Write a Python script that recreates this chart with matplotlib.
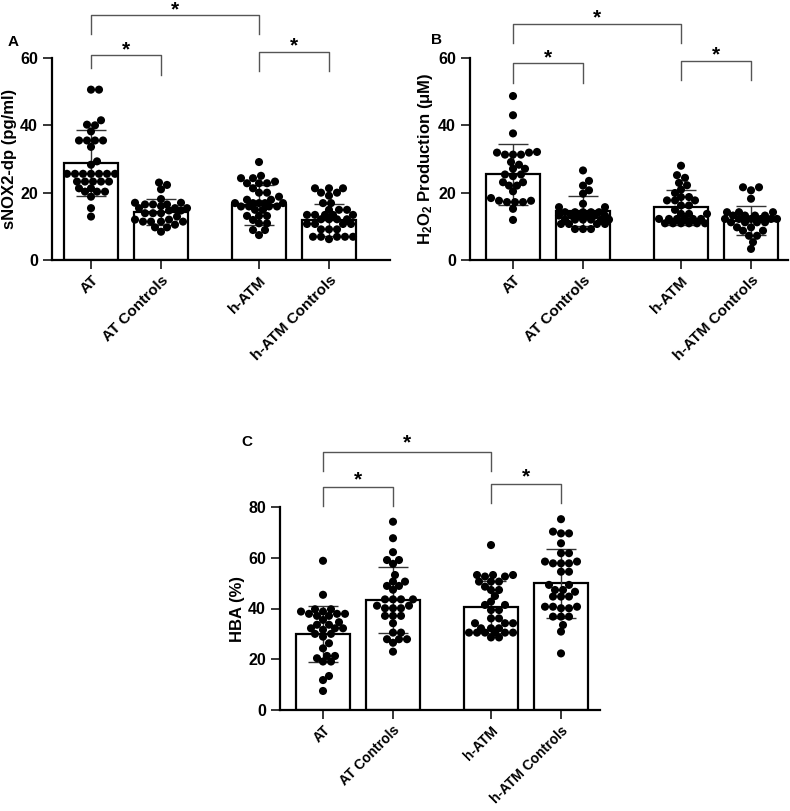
import numpy as np
import matplotlib
matplotlib.use('Agg')
import matplotlib.pyplot as plt

plt.rcParams['font.family'] = ['Liberation Sans', 'DejaVu Sans']
plt.rcParams['font.weight'] = 'bold'
plt.rcParams['mathtext.default'] = 'regular'

groups = ['AT', 'AT Controls', 'h-ATM', 'h-ATM Controls']
pos = [0, 1, 2.4, 3.4]

# panel A - sNOX2-dp (pg/ml)
a_at = [50.6, 50.6, 41.5, 40.2, 40.0, 38.2, 35.5, 35.5, 35.5, 35.5, 33.6, 29.3, 28.3,
        25.6, 25.6, 25.6, 25.6, 25.6, 25.6, 25.6, 23.3, 23.3, 23.3, 23.3, 23.3,
        21.3, 21.3, 20.3, 20.3, 20.3, 18.8, 15.4, 12.9]
a_atc = [23.0, 22.3, 21.0, 18.1, 17.0, 17.0, 16.5, 16.5, 16.5, 16.0, 15.4, 15.4, 15.4,
         14.7, 14.7, 13.9, 13.9, 13.9, 12.9, 12.0, 12.0, 11.4, 11.4, 11.4, 11.4,
         10.5, 9.7, 9.7, 8.4]
a_hatm = [29.1, 25.0, 24.3, 24.3, 23.3, 22.8, 22.8, 22.8, 21.3, 20.0, 20.0, 18.8, 17.9,
          17.9, 16.9, 16.9, 16.9, 16.9, 16.9, 15.9, 15.9, 15.9, 15.9, 14.9, 14.9,
          13.1, 13.1, 13.1, 11.9, 10.9, 10.9, 8.9, 8.9, 7.4]
a_hatmc = [21.3, 21.3, 21.3, 20.0, 20.0, 19.1, 16.9, 16.9, 14.9, 14.9, 14.9, 13.4, 13.4,
           13.4, 13.4, 13.4, 12.1, 12.1, 12.1, 12.1, 10.7, 10.7, 10.7, 10.7, 9.1, 9.1,
           9.1, 6.9, 6.9, 6.9, 6.9, 6.9, 6.2]
a_mean = [28.8, 14.3, 16.4, 11.9]
a_sd = [9.9, 3.8, 6.0, 4.8]

# panel B - H2O2 production (uM)
b_at = [48.7, 43.0, 37.6, 32.1, 31.9, 31.9, 31.3, 31.3, 31.3, 29.1, 28.3, 27.1, 27.1,
        25.4, 25.4, 24.9, 23.1, 23.1, 22.1, 22.1, 20.4, 18.4, 17.6, 17.6, 17.2, 17.2,
        17.2, 15.2, 11.9]
b_atc = [26.6, 23.5, 22.1, 20.7, 19.7, 16.7, 15.7, 15.7, 14.2, 14.2, 14.2, 14.2, 14.2,
         13.2, 13.2, 13.2, 13.2, 13.2, 13.2, 12.0, 12.0, 12.0, 12.0, 12.0, 12.0,
         10.7, 10.7, 10.7, 10.7, 9.2, 9.2, 9.2]
b_hatm = [28.0, 25.2, 24.4, 22.9, 22.2, 20.9, 19.9, 18.7, 18.7, 17.7, 17.7, 17.7, 16.2,
          16.2, 14.9, 13.7, 13.7, 13.7, 12.2, 12.2, 12.2, 12.2, 12.2, 12.2, 10.9, 10.9,
          10.9, 10.9, 10.9, 10.9]
b_hatmc = [21.6, 21.6, 20.7, 18.2, 14.2, 14.2, 14.2, 13.2, 13.2, 13.2, 13.2, 12.2, 12.2,
           12.2, 12.2, 12.2, 12.2, 11.2, 11.2, 11.2, 11.2, 9.7, 9.7, 8.7, 8.7, 7.2, 7.2,
           5.3, 3.3]
b_mean = [25.4, 14.5, 15.7, 11.7]
b_sd = [9.0, 4.5, 5.2, 4.4]

# panel C - HBA (%)
c_at = [58.8, 45.4, 39.7, 39.7, 38.8, 38.8, 37.9, 37.9, 37.9, 37.1, 37.1, 35.5, 34.6,
        33.6, 33.6, 32.2, 32.2, 32.2, 31.6, 30.0, 30.0, 28.9, 26.3, 24.3, 21.3, 21.3,
        20.4, 19.1, 19.1, 13.4, 11.8, 7.5]
c_atc = [74.2, 67.7, 62.2, 59.1, 59.1, 57.6, 53.2, 50.6, 50.6, 48.9, 48.9, 47.4, 43.6,
         43.6, 43.6, 43.6, 41.1, 41.1, 40.1, 40.1, 40.1, 37.1, 37.1, 37.1, 34.2, 30.5,
         30.5, 27.9, 27.9, 27.9, 26.5, 23.0]
c_hatm = [65.0, 53.2, 53.2, 53.2, 52.6, 52.6, 50.6, 50.6, 50.6, 48.6, 47.3, 47.3, 44.9,
          42.7, 41.4, 41.4, 39.4, 39.4, 36.1, 36.1, 34.2, 34.2, 34.2, 32.2, 32.2, 32.2,
          30.5, 30.5, 30.5, 30.5, 30.5, 30.5, 28.6, 28.6]
c_hatmc = [75.2, 70.3, 69.6, 69.6, 65.7, 61.8, 61.8, 58.5, 58.5, 57.8, 57.8, 57.8, 54.5,
           54.5, 49.3, 49.3, 47.3, 47.3, 46.6, 44.7, 44.7, 44.7, 40.7, 40.7, 40.7, 40.1,
           40.1, 36.8, 36.8, 36.8, 33.5, 30.9, 22.3]
c_mean = [29.9, 43.4, 40.7, 49.9]
c_sd = [11.0, 13.0, 10.2, 13.5]

# brackets: (i, j, y_line, y_left_leg, y_right_leg)
a_br = [(0, 2, 72.8, 67.1, 67.1), (0, 1, 60.9, 57.0, 54.9), (2, 3, 61.9, 56.1, 56.1)]
b_br = [(0, 2, 70.2, 64.5, 64.5), (0, 1, 58.5, 52.7, 52.5), (2, 3, 59.2, 53.5, 53.5)]
c_br = [(0, 2, 101.7, 94.1, 94.1), (0, 1, 87.9, 80.3, 80.3), (2, 3, 89.1, 81.6, 81.6)]

W, H = 790, 811
fig = plt.figure(figsize=(W / 100, H / 100), dpi=100)


def swarm(vals, xs, ys, d=8.0, maxw=27.0):
    # simple beeswarm in pixel space
    vals = np.asarray(vals)
    order = np.argsort(vals)
    placed = []
    offs = np.zeros(len(vals))
    cands = [0.0]
    k = 1
    while k * 2.0 <= maxw:
        cands += [k * 2.0, -k * 2.0]
        k += 1
    for i in order:
        y = vals[i] * ys
        best = None
        worst = None
        for c in cands:
            dmin = min([np.hypot(c - px, y - py) for px, py in placed] + [99])
            if dmin >= 0.85 * d:
                best = c
                break
            if worst is None or dmin > worst[1]:
                worst = (c, dmin)
        if best is None:
            best = worst[0]
        placed.append((best, y))
        offs[i] = best / xs
    return offs


def draw(ax, xlim, ylim, yticks, data, means, sds, brackets, ylabel, star_dy, xfs=11):
    ax.set_xlim(*xlim)
    ax.set_ylim(*ylim)
    bb = ax.get_position()
    xs = bb.width * W / (xlim[1] - xlim[0])
    ys = bb.height * H / (ylim[1] - ylim[0])
    ax.bar(pos, means, width=0.77, color='white', edgecolor='black', linewidth=1.6, zorder=1)
    ax.errorbar(pos, means, yerr=sds, fmt='none', ecolor='#333333', elinewidth=1.0,
                capsize=10.5, capthick=1.0, zorder=2)
    for p, vals in zip(pos, data):
        off = swarm(vals, xs, ys)
        ax.scatter(p + off, vals, s=34, color='black', edgecolors='none', zorder=3, clip_on=False)
    for n, (i, j, yl, y1, y2) in enumerate(brackets):
        ax.plot([pos[i], pos[i], pos[j], pos[j]], [y1, yl, yl, y2], color='#555555',
                lw=1.0, clip_on=False)
        ax.annotate('*', xy=((pos[i] + pos[j]) / 2, yl), xytext=(0, star_dy[n]),
                    textcoords='offset points', ha='center', va='bottom',
                    fontsize=15, fontweight='bold', annotation_clip=False)
    for s in ['top', 'right']:
        ax.spines[s].set_visible(False)
    for s in ['left', 'bottom']:
        ax.spines[s].set_linewidth(1.6)
    ax.set_yticks(yticks)
    ax.set_xticks(pos)
    ax.set_xticklabels(groups, rotation=45, ha='right', va='top', rotation_mode='anchor',
                       fontsize=xfs, fontweight='bold')
    ax.tick_params(axis='both', length=6.5, width=1.1)
    ax.tick_params(axis='y', labelsize=11.5)
    ax.tick_params(axis='x', pad=3)
    for lab in ax.get_yticklabels():
        lab.set_fontweight('bold')
    ax.set_ylabel(ylabel, fontsize=12, fontweight='bold', labelpad=2)


def make_ax(l, r, t, b):
    return fig.add_axes([l / W, 1 - b / H, (r - l) / W, (b - t) / H])


axA = make_ax(52, 390, 58, 260)
draw(axA, (-39 / 70, 299 / 70), (0, 60), [0, 20, 40, 60],
     [a_at, a_atc, a_hatm, a_hatmc], a_mean, a_sd, a_br, 'sNOX2-dp (pg/ml)', [-3, -3, -3])

axB = make_ax(470, 788, 58, 260)
draw(axB, (-43 / 70, 275 / 70), (0, 60), [0, 20, 40, 60],
     [b_at, b_atc, b_hatm, b_hatmc], b_mean, b_sd, b_br, 'H$_2$O$_2$ Production (μM)', [-3, -3, -3])

axC = make_ax(280, 600, 507, 710)
draw(axC, (-43 / 70, 277 / 70), (0, 80), [0, 20, 40, 60, 80],
     [c_at, c_atc, c_hatm, c_hatmc], c_mean, c_sd, c_br, 'HBA (%)', [0, -1.5, -1.5], xfs=10)

fig.text(13 / W, 1 - 42 / H, 'A', fontsize=11, fontweight='bold', ha='center', va='center')
fig.text(437 / W, 1 - 40 / H, 'B', fontsize=11, fontweight='bold', ha='center', va='center')
fig.text(247 / W, 1 - 442 / H, 'C', fontsize=11, fontweight='bold', ha='center', va='center')

fig.savefig('out.png', dpi=100)
